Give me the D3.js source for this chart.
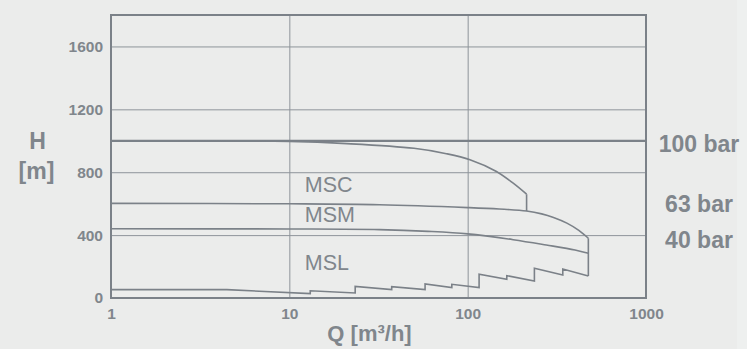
<!DOCTYPE html>
<html>
<head>
<meta charset="utf-8">
<script src="https://cdn.jsdelivr.net/npm/d3@7"></script>
<style>
  html, body { margin: 0; padding: 0; background: #ebeceb; }
  svg { display: block; }
  text { font-family: "Liberation Sans", Arial, sans-serif; }
</style>
</head>
<body>
<svg id="chart" width="747" height="349"></svg>
<script>
// ---- data ----
const xTicks = [1, 10, 100, 1000];
const yTicks = [0, 400, 800, 1200, 1600];

// MSC curve (Q m3/h, H m)
const mscQ = [1, 10, 21, 50, 76, 103, 145, 180, 214];
const mscH = [1000, 996, 982, 952, 918, 880, 805, 730, 660];
// MSM curve
const msmQ = [1, 10, 32, 100, 150, 214, 260, 303, 360, 420, 475];
const msmH = [602, 599, 593, 575, 566, 553, 535, 512, 476, 430, 380];
// MSL curve
const mslQ = [1, 10, 32, 60, 100, 180, 276, 400, 475];
const mslH = [440, 439, 435, 424, 408, 371, 337, 305, 284];
// lower (stepped) curve
const sawQ = [1, 4.46, 13.1, 13.1, 23.4, 23.4, 37.5, 37.5, 57.7, 57.7, 81.5, 81.5, 115.9, 115.9, 165.7, 165.7, 236.7, 236.7, 341.5, 341.5, 475];
const sawH = [53, 53, 28, 46, 32, 74, 53, 72, 53, 89, 66, 87, 66, 151, 119, 142, 108, 189, 146, 184, 140];
// vertical end connectors [Q, Hfrom, Hto]
const dropQ = [214, 475];
const dropTop = [660, 380];
const dropBottom = [553, 140];
// pressure reference line
const pressureH = [1000];
// series labels
const seriesNames = ["MSC", "MSM", "MSL"];
const seriesLabelH = [695, 500, 200];
// right labels
const barLabels = ["100 bar", "63 bar", "40 bar"];

// ---- layout ----
const svg = d3.select("#chart");
const W = 747, H = 349;
const m = { left: 111, right: 646, top: 15, bottom: 298 };
const ink = "#7b8188";
const textInk = "#80868c";

svg.append("rect").attr("x", 737).attr("y", 0).attr("width", 10).attr("height", H).attr("fill", "#eef0ef");

const x = d3.scaleLog().domain([1, 1000]).range([m.left, m.right]);
const y = d3.scaleLinear().domain([0, 1800]).range([m.bottom, m.top]);

// grid
const gy = svg.append("g").attr("transform", `translate(${m.left},0)`)
  .call(d3.axisLeft(y).tickValues(yTicks.filter(d => d > 0)).tickSize(-(m.right - m.left)).tickFormat(""));
gy.select(".domain").remove();
gy.selectAll("line").attr("stroke", "#8e949a").attr("stroke-width", 1);

const gx = svg.append("g").attr("transform", `translate(0,${m.bottom})`)
  .call(d3.axisBottom(x).tickValues([10, 100]).tickSize(-(m.bottom - m.top)).tickFormat(""));
gx.select(".domain").remove();
gx.selectAll("line").attr("stroke", "#8e949a").attr("stroke-width", 1);

// pressure line 1000
svg.selectAll("line.press").data(pressureH).join("line")
  .attr("class", "press")
  .attr("x1", m.left).attr("x2", m.right)
  .attr("y1", d => y(d)).attr("y2", d => y(d))
  .attr("stroke", ink).attr("stroke-width", 2.2);

// frame
svg.append("rect")
  .attr("x", m.left).attr("y", m.top)
  .attr("width", m.right - m.left).attr("height", m.bottom - m.top)
  .attr("fill", "none").attr("stroke", ink).attr("stroke-width", 2);

// curves
const smooth = d3.line().x(d => x(d[0])).y(d => y(d[1])).curve(d3.curveCatmullRom.alpha(0.5));
const straight = d3.line().x(d => x(d[0])).y(d => y(d[1]));

[[mscQ, mscH], [msmQ, msmH], [mslQ, mslH]].forEach(([qs, hs]) => {
  svg.append("path")
    .attr("d", smooth(qs.map((q, i) => [q, hs[i]])))
    .attr("fill", "none").attr("stroke", ink).attr("stroke-width", 1.6);
});
svg.append("path")
  .attr("d", straight(sawQ.map((q, i) => [q, sawH[i]])))
  .attr("fill", "none").attr("stroke", ink).attr("stroke-width", 1.6)
  .attr("stroke-linejoin", "miter");

dropQ.forEach((q, i) => {
  svg.append("line")
    .attr("x1", x(q)).attr("x2", x(q))
    .attr("y1", y(dropTop[i])).attr("y2", y(dropBottom[i]))
    .attr("stroke", ink).attr("stroke-width", 1.6);
});

// y tick labels
const yl = svg.append("g").attr("transform", `translate(${m.left - 8},0)`)
  .call(d3.axisLeft(y).tickValues(yTicks).tickSize(0).tickPadding(0).tickFormat(d3.format("d")));
yl.select(".domain").remove();
yl.selectAll("text")
  .attr("fill", textInk).attr("font-size", 15.5).attr("font-weight", "bold")
  .attr("font-family", "Liberation Sans, Arial, sans-serif");

// x tick labels
const xl = svg.append("g").attr("transform", `translate(0,${m.bottom})`)
  .call(d3.axisBottom(x).tickValues(xTicks).tickSize(0).tickPadding(0).tickFormat(d3.format("d")));
xl.select(".domain").remove();
xl.selectAll("text")
  .attr("fill", textInk).attr("font-size", 15.5).attr("font-weight", "bold")
  .attr("y", 21).attr("dy", null)
  .attr("font-family", "Liberation Sans, Arial, sans-serif");

// axis titles
svg.append("text").attr("x", 37.5).attr("y", 148.5).attr("text-anchor", "middle")
  .attr("font-size", 23).attr("font-weight", "bold").attr("fill", textInk).text("H");
svg.append("text").attr("x", 36.5).attr("y", 178.5).attr("text-anchor", "middle")
  .attr("font-size", 23).attr("font-weight", "bold").attr("fill", textInk).text("[m]");
svg.append("text").attr("x", 369.5).attr("y", 341).attr("text-anchor", "middle")
  .attr("font-size", 22).attr("font-weight", "bold").attr("fill", textInk).text("Q [m³/h]");

// series labels
svg.selectAll("text.series").data(seriesNames).join("text")
  .attr("class", "series")
  .attr("x", x(12.2))
  .attr("y", (d, i) => y(seriesLabelH[i]) + 3)
  .attr("font-size", 21.5).attr("fill", textInk)
  .text(d => d);

// bar labels
const barLabelY = [151.5, 211.5, 248.3];
svg.selectAll("text.bar").data(barLabels).join("text")
  .attr("class", "bar")
  .attr("x", 699).attr("y", (d, i) => barLabelY[i])
  .attr("text-anchor", "middle")
  .attr("font-size", 23).attr("font-weight", "bold").attr("fill", textInk)
  .text(d => d);
</script>
</body>
</html>
